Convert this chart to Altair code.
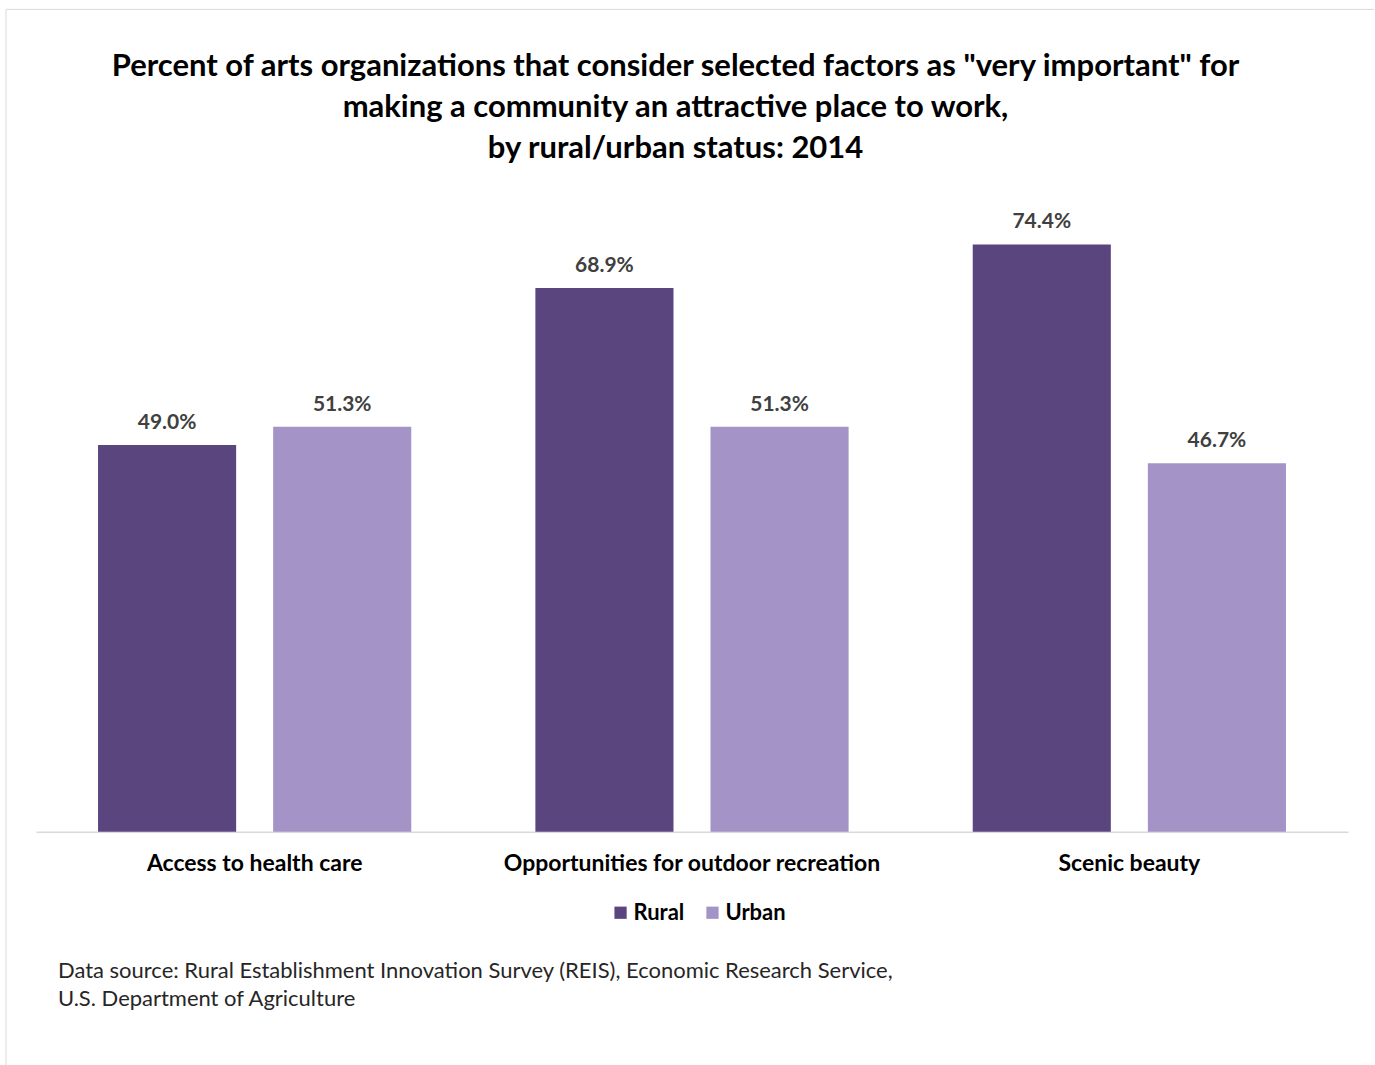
import altair as alt
import pandas as pd

factors = ["Access to health care", "Opportunities for outdoor recreation", "Scenic beauty"]
statuses = ["Rural", "Urban"]
rural_values = [49.0, 68.9, 74.4]
urban_values = [51.3, 51.3, 46.7]
colors = ["#5a457f", "#a393c6"]
title_lines = [
    'Percent of arts organizations that consider selected factors as "very important" for',
    "making a community an attractive place to work,",
    "by rural/urban status: 2014",
]
footnote_lines = [
    "Data source: Rural Establishment Innovation Survey (REIS), Economic Research Service,",
    "U.S. Department  of Agriculture",
]

rows = []
for f, r, u in zip(factors, rural_values, urban_values):
    rows.append({"factor": f, "status": "Rural", "value": r})
    rows.append({"factor": f, "status": "Urban", "value": u})
df = pd.DataFrame(rows)

FONT = "Lato"
W, H = 1313, 632

x_enc = alt.X(
    "factor:N",
    sort=factors,
    title=None,
    scale=alt.Scale(paddingInner=0.2838, paddingOuter=0.1419),
    axis=alt.Axis(
        labelAngle=0,
        ticks=False,
        domainColor="#d9d9d9",
        domainWidth=1.5,
        labelFont=FONT,
        labelFontSize=23,
        labelFontWeight="bold",
        labelColor="#000000",
        labelPadding=21,
        labelLimit=0,
    ),
)
xoff_enc = alt.XOffset(
    "status:N", sort=statuses, scale=alt.Scale(paddingInner=0.2114, paddingOuter=0)
)
y_enc = alt.Y("value:Q", axis=None, scale=alt.Scale(domain=[0, 80]))

base = alt.Chart(df)

bars = base.mark_bar().encode(
    x=x_enc,
    xOffset=xoff_enc,
    y=y_enc,
    color=alt.Color(
        "status:N",
        sort=statuses,
        scale=alt.Scale(domain=statuses, range=colors),
        legend=alt.Legend(
            title=None,
            orient="none",
            direction="horizontal",
            legendX=574,
            legendY=702,
            symbolType="square",
            symbolSize=150,
            symbolStrokeWidth=0,
            symbolOpacity=1,
            labelFont=FONT,
            labelFontSize=22,
            labelFontWeight="bold",
            labelColor="#000000",
            labelOffset=2,
            columnPadding=17,
            padding=0,
        ),
    ),
)

labels = base.mark_text(
    font=FONT, fontSize=21, fontWeight="bold", color="#404040", baseline="middle", dy=-22
).transform_calculate(
    label="format(datum.value, '.1f') + '%'"
).encode(
    x=x_enc,
    xOffset=xoff_enc,
    y=y_enc,
    text="label:N",
)

title_df = pd.DataFrame({"text": [title_lines]})
title = alt.Chart(title_df).mark_text(
    font=FONT, fontSize=31, fontWeight="bold", color="#000000", align="center",
    baseline="middle", lineHeight=41
).encode(
    x=alt.value(640),
    y=alt.value(-133),
    text="text:N",
)

foot_df = pd.DataFrame({"text": [footnote_lines]})
footnote = alt.Chart(foot_df).mark_text(
    font=FONT, fontSize=22, color="#262626", align="left", baseline="middle", lineHeight=28
).encode(
    x=alt.value(22),
    y=alt.value(771),
    text="text:N",
)

frame_df = pd.DataFrame({"b": [1]})
left_edge = alt.Chart(frame_df).mark_rule(color="#d9d9d9", strokeWidth=1).encode(
    x=alt.value(-30),
    y=alt.value(-191),
    y2=alt.value(H + 260),
)
top_edge = alt.Chart(frame_df).mark_rule(color="#d9d9d9", strokeWidth=1).encode(
    x=alt.value(-30),
    x2=alt.value(1339),
    y=alt.value(-191),
)

chart = alt.layer(left_edge, top_edge, bars, labels, title, footnote).properties(
    width=W,
    height=H,
    padding={"left": 5, "top": 8, "right": 0, "bottom": 0},
    background="#ffffff",
).configure_view(stroke=None)

chart.save("out.html", embed_options={"renderer": "svg", "actions": False})
